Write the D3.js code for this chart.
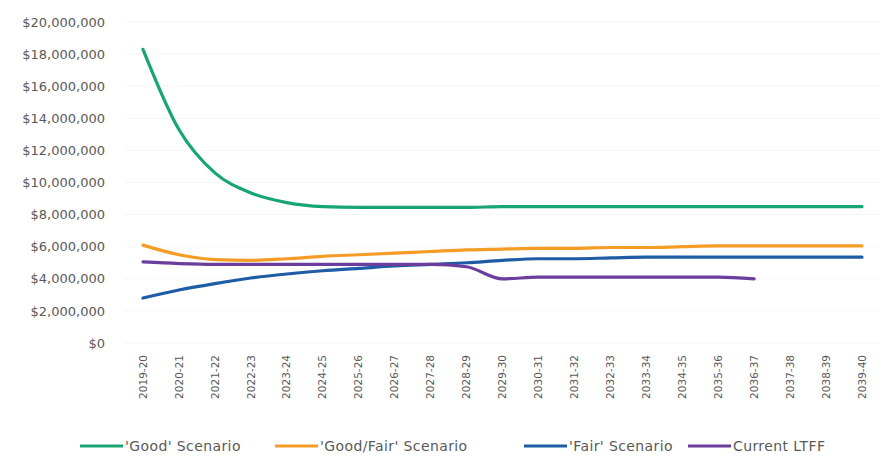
<!DOCTYPE html>
<html>
<head>
<meta charset="utf-8">
<script src="https://cdn.jsdelivr.net/npm/d3@7"></script>
<style>
  html, body { margin: 0; padding: 0; background: #ffffff; }
  svg { display: block; }
</style>
</head>
<body>
<svg id="chart" width="888" height="456"></svg>
<script>
const categories = ["2019-20","2020-21","2021-22","2022-23","2023-24","2024-25","2025-26","2026-27","2027-28","2028-29","2029-30","2030-31","2031-32","2032-33","2033-34","2034-35","2035-36","2036-37","2037-38","2038-39","2039-40"];
const goodScenario = [18300000,13300000,10600000,9350000,8750000,8500000,8450000,8450000,8450000,8450000,8500000,8500000,8500000,8500000,8500000,8500000,8500000,8500000,8500000,8500000,8500000];
const goodFairScenario = [6100000,5500000,5200000,5150000,5250000,5400000,5500000,5600000,5700000,5800000,5850000,5900000,5900000,5950000,5950000,6000000,6050000,6050000,6050000,6050000,6050000];
const fairScenario = [2800000,3300000,3700000,4050000,4300000,4500000,4650000,4800000,4900000,5000000,5150000,5250000,5250000,5300000,5350000,5350000,5350000,5350000,5350000,5350000,5350000];
const currentLTFF = [5050000,4950000,4900000,4900000,4900000,4900000,4900000,4900000,4900000,4750000,4000000,4100000,4100000,4100000,4100000,4100000,4100000,4000000];
const yTicks = [0,2000000,4000000,6000000,8000000,10000000,12000000,14000000,16000000,18000000,20000000];
const seriesNames = ["'Good' Scenario","'Good/Fair' Scenario","'Fair' Scenario","Current LTFF"];
const seriesColors = ["#17a673","#f59c26","#1f5ca6","#6b3d9c"];

const series = [goodScenario, goodFairScenario, fairScenario, currentLTFF].map((vals, i) => ({
  name: seriesNames[i], color: seriesColors[i],
  points: vals.map((v, j) => ({cat: categories[j], v}))
}));

const svg = d3.select("#chart");
const font = "'DejaVu Sans', sans-serif";

const x = d3.scaleBand().domain(categories).range([125, 880]);
const y = d3.scaleLinear().domain([0, 20000000]).range([343, 22]);
const cx = c => x(c) + x.bandwidth() / 2;

// gridlines (very faint)
svg.append("g").selectAll("line").data(yTicks).join("line")
  .attr("x1", 125).attr("x2", 880)
  .attr("y1", d => y(d)).attr("y2", d => y(d))
  .attr("stroke", "#f5f5f5").attr("stroke-width", 1);

// y axis
const yAxis = svg.append("g").attr("transform", "translate(105,0)")
  .call(d3.axisLeft(y).tickValues(yTicks).tickSize(0).tickPadding(0)
    .tickFormat(d => "$" + d3.format(",")(d)));
yAxis.select(".domain").remove();
yAxis.selectAll("text").attr("font-family", font).attr("font-size", "13px").attr("fill", "#595959");

// x axis
const xAxis = svg.append("g").attr("transform", "translate(0,352)")
  .call(d3.axisBottom(x).tickSize(0).tickPadding(0));
xAxis.select(".domain").remove();
xAxis.selectAll("text")
  .attr("font-family", font).attr("font-size", "10.5px").attr("fill", "#595959")
  .attr("transform", "rotate(-90)")
  .attr("text-anchor", "end")
  .attr("x", -3).attr("y", 0).attr("dy", "0.35em");

// lines
const line = d3.line().x(d => cx(d.cat)).y(d => y(d.v)).curve(d3.curveMonotoneX);
svg.append("g").selectAll("path").data(series).join("path")
  .attr("d", d => line(d.points))
  .attr("fill", "none")
  .attr("stroke", d => d.color)
  .attr("stroke-width", 3.2)
  .attr("stroke-linejoin", "round")
  .attr("stroke-linecap", "round");

// legend
const legendX = [80, 275, 524, 688];
const lg = svg.append("g").selectAll("g").data(series).join("g")
  .attr("transform", (d, i) => `translate(${legendX[i]},446)`);
lg.append("line").attr("x1", 0).attr("x2", 43).attr("y1", 0).attr("y2", 0)
  .attr("stroke", d => d.color).attr("stroke-width", 3.2);
lg.append("text").attr("x", 45).attr("y", 0).attr("dy", "0.35em")
  .attr("font-family", font).attr("font-size", "14px").attr("letter-spacing", "0.4px").attr("fill", "#595959")
  .text(d => d.name);
</script>
</body>
</html>
